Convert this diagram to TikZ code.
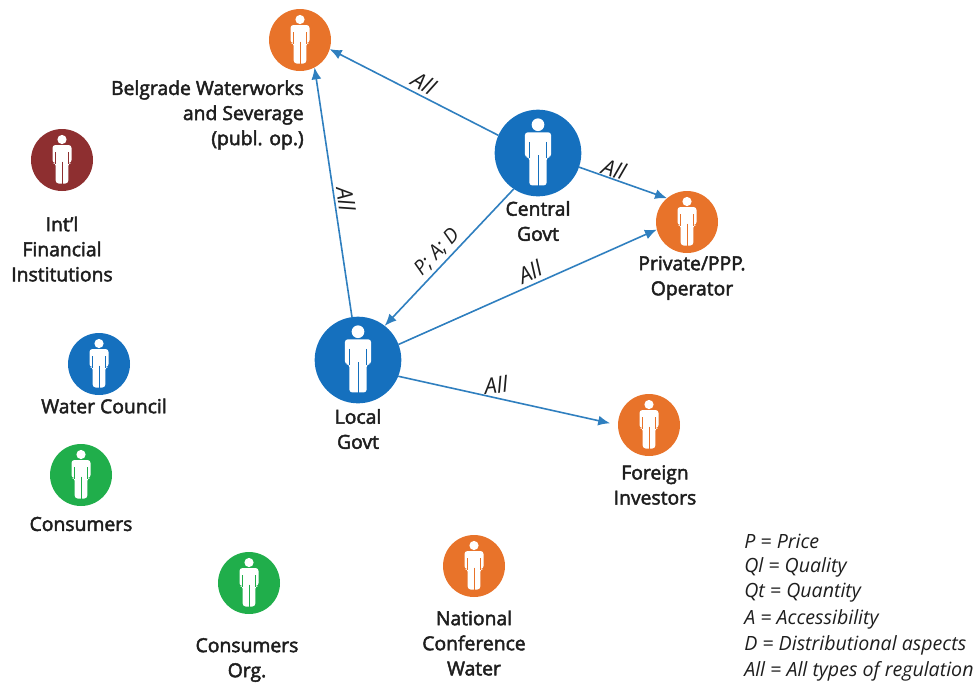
\documentclass[tikz,border=0pt]{standalone}
\usepackage{fontspec}
\setmainfont{Open Sans}
\newfontface\lblfont[FakeBold=2.4]{Open Sans}
\usetikzlibrary{arrows.meta}
\definecolor{cOrange}{HTML}{E8732A}
\definecolor{cBlue}{HTML}{1570BE}
\definecolor{cGreen}{HTML}{20AE4B}
\definecolor{cRed}{HTML}{8E2F30}
\definecolor{cLine}{HTML}{2F7FBF}
\definecolor{cText}{HTML}{1E1E1E}
\tikzset{
  x=0.75pt,y=-0.75pt,
  actor/.style={circle,draw=none,inner sep=0pt,outer sep=0pt,minimum size=46.5pt},
  big/.style={minimum size=65pt},
  lab/.style={font=\lblfont\fontsize{14.5}{18.8}\selectfont,text=cText,align=center,inner sep=0pt},
  reg/.style={font=\itshape\fontsize{16.5}{16.5}\selectfont,text=cText,inner sep=0pt},
  legend/.style={font=\itshape\fontsize{14.7}{15}\selectfont,text=cText,inner sep=0pt,anchor=west},
  link/.style={draw=cLine,line width=1.2pt,-{Latex[length=9pt,width=7.5pt]}},
  person/.pic={
    \fill[white] (0,-20.5) circle[radius=4.6];
    \fill[white,rounded corners=2.2] (-9.5,3) -- (-9.5,-15) -- (9.5,-15) -- (9.5,3) -- (6.3,3) -- (6.3,23.5) -- (-6.3,23.5) -- (-6.3,3) -- cycle;
    \draw[line width=0.5pt,draw=personcol] (0,1.5) -- (0,24);
    \draw[line width=0.4pt,draw=personcol] (-6.3,-8) -- (-6.3,3.5) (6.3,-8) -- (6.3,3.5);
  }
}
\colorlet{personcol}{cBlue}
\newcommand{\actor}[6]{%
  \node[actor,fill=#2,#6] (#1) at (#3,#4) {};
  \colorlet{personcol}{#2}
  \pic[scale=#5] at (#1) {person};
}
\begin{document}
\begin{tikzpicture}
\useasboundingbox (0,0) rectangle (979,683);
\actor{belgrade}{cOrange}{300}{40}{1}{}
\actor{intl}{cRed}{62}{160}{1}{}
\actor{central}{cBlue}{538}{153}{1.38}{big}
\actor{private}{cOrange}{687}{222}{1}{}
\actor{local}{cBlue}{358}{360}{1.38}{big}
\actor{council}{cBlue}{99}{364}{1}{}
\actor{foreign}{cOrange}{649}{425}{1}{}
\actor{consumers}{cGreen}{81}{475}{1}{}
\actor{org}{cGreen}{249}{583}{1}{}
\actor{national}{cOrange}{474}{566}{1}{}

\node[lab,align=right,anchor=east] (tbelgrade) at (304,115) {Belgrade Waterworks\\and Severage\\(publ. op.)};
\node[lab] (tintl) at (62,249) {Int’l\\Financial\\Institutions};
\node[lab] (tcentral) at (538,221) {Central\\Govt};
\node[lab] (tprivate) at (692,278) {Private/PPP.\\Operator};
\node[lab] (tlocal) at (358,429) {Local\\Govt};
\node[lab] (tcouncil) at (104,406) {Water Council};
\node[lab] (tforeign) at (655,485) {Foreign\\Investors};
\node[lab] (tconsumers) at (81,524) {Consumers};
\node[lab] (torg) at (247,660) {Consumers\\Org.};
\node[lab] (tnational) at (474,643) {National\\Conference\\Water};

\draw[link] (central.156) -- (belgrade.-17);
\draw[link] (central.-19) -- (private.130);
\draw[link] (central.-124) -- (local.52);
\draw[link] (local.98) -- (belgrade.-62);
\draw[link] (local.21) -- (private.194);
\draw[link,shorten >=6pt] (local.-22) -- (foreign.180);

\node[reg,rotate=-30] (l1) at (424,83) {All};
\node[reg,rotate=-18] (l2) at (614,169) {All};
\node[reg,rotate=-82] (l3) at (346,199) {All};
\node[reg,rotate=47,font=\itshape\fontsize{15}{15}\selectfont] (l4) at (437,252) {P; A; D};
\node[reg,rotate=25] (l5) at (530,272) {All};
\node[reg,rotate=7] (l6) at (496,385) {All};

\node[legend] (k1) at (744,541) {P = Price};
\node[legend] (k2) at (744,567) {Ql = Quality};
\node[legend] (k3) at (744,593) {Qt = Quantity};
\node[legend] (k4) at (744,619) {A = Accessibility};
\node[legend] (k5) at (744,645) {D = Distributional aspects};
\node[legend] (k6) at (744,671) {All = All types of regulation};
\end{tikzpicture}
\end{document}
